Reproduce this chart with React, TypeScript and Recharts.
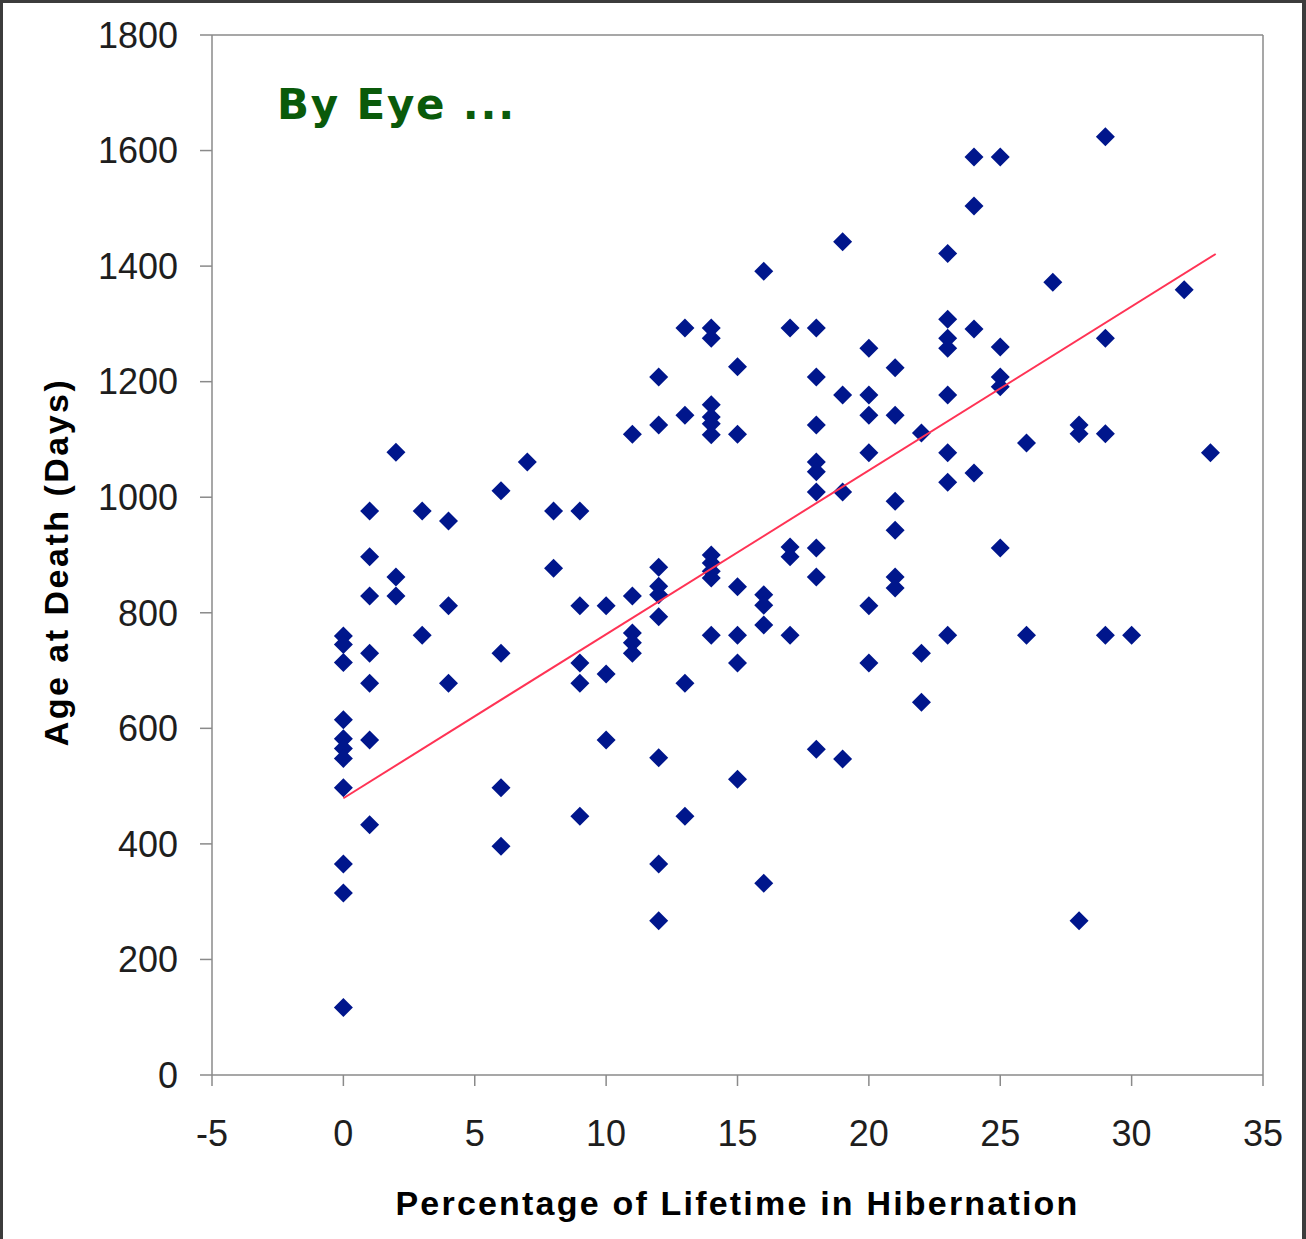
import React from 'react';
import { ScatterChart, Scatter, XAxis, YAxis, ReferenceLine } from 'recharts';

// % of lifetime in hibernation, read column by column
const hibernation = [
  0, 0, 0, 0, 0, 0, 0, 0, 0, 0, 0,
  1, 1, 1, 1, 1, 1, 1,
  2, 2, 2,
  3, 3,
  4, 4, 4,
  6, 6, 6, 6,
  7,
  8, 8,
  9, 9, 9, 9, 9,
  10, 10, 10,
  11, 11, 11, 11, 11,
  12, 12, 12, 12, 12, 12, 12, 12, 12,
  13, 13, 13, 13,
  14, 14, 14, 14, 14, 14, 14, 14, 14, 14, 14,
  15, 15, 15, 15, 15, 15,
  16, 16, 16, 16, 16,
  17, 17, 17, 17,
  18, 18, 18, 18, 18, 18, 18, 18, 18,
  19, 19, 19, 19,
  20, 20, 20, 20, 20, 20,
  21, 21, 21, 21, 21, 21,
  22, 22, 22,
  23, 23, 23, 23, 23, 23, 23, 23,
  24, 24, 24, 24,
  25, 25, 25, 25, 25,
  26, 26,
  27,
  28, 28, 28,
  29, 29, 29, 29,
  30,
  32,
  33,
];

// age at death (days), same order
const ageAtDeath = [
  760, 745, 714, 615, 582, 565, 548, 497, 365, 315, 117,
  976, 897, 829, 730, 678, 580, 433,
  1078, 862, 829,
  976, 761,
  959, 812, 678,
  1011, 730, 497, 396,
  1061,
  976, 877,
  976, 812, 713, 678, 448,
  812, 694, 580,
  1109, 829, 765, 748, 730,
  1208, 1125, 879, 846, 831, 793, 549, 365, 267,
  1293, 1142, 678, 448,
  1293, 1275, 1160, 1139, 1127, 1108, 900, 886, 872, 860, 761,
  1226, 1109, 845, 761, 713, 512,
  1391, 831, 813, 779, 332,
  1293, 914, 897, 761,
  1293, 1208, 1125, 1061, 1044, 1009, 912, 862, 564,
  1442, 1177, 1009, 547,
  1258, 1177, 1142, 1077, 812, 713,
  1224, 1142, 993, 943, 862, 843,
  1111, 730, 645,
  1422, 1308, 1275, 1258, 1177, 1077, 1026, 761,
  1589, 1504, 1291, 1042,
  1589, 1260, 1208, 1191, 912,
  1094, 761,
  1372,
  1125, 1110, 267,
  1624, 1275, 1110, 761,
  761,
  1359,
  1077,
];

// hand-drawn "by eye" line: two end points
const eyeLineX = [0, 33.2];
const eyeLineY = [479, 1421];

const xTicks = [-5, 0, 5, 10, 15, 20, 25, 30, 35];
const yTicks = [0, 200, 400, 600, 800, 1000, 1200, 1400, 1600, 1800];

const points = hibernation.map((x, i) => ({ x, y: ageAtDeath[i] }));
const eyeLine = eyeLineX.map((x, i) => ({ x, y: eyeLineY[i] }));

const AXIS = '#8a8a8a';
const tickFont = { fontFamily: 'Liberation Sans, Arial, sans-serif', fontSize: 36, fill: '#1e1e1e' };
const labelFont = 'Liberation Sans, Arial, sans-serif';

const Diamond = (props: any) => {
  const { cx, cy } = props;
  const r = 9.5;
  return <path d={`M${cx},${cy - r}L${cx + r},${cy}L${cx},${cy + r}L${cx - r},${cy}Z`} fill="#00168c" />;
};

const XLabel = (props: any) => {
  const vb = props.viewBox;
  return (
    <text x={vb.x + vb.width / 2} y={vb.y + 140} textAnchor="middle" fontFamily={labelFont} fontWeight="bold" fontSize={34} letterSpacing={2.2} fill="#000">
      Percentage of Lifetime in Hibernation
    </text>
  );
};

const YLabel = (props: any) => {
  const vb = props.viewBox;
  const cy = vb.y + vb.height / 2 + 7;
  return (
    <text x={68} y={cy} transform={`rotate(-90, 68, ${cy})`} textAnchor="middle" fontFamily={labelFont} fontWeight="bold" fontSize={34} letterSpacing={2.5} fill="#000">
      Age at Death (Days)
    </text>
  );
};

export default function App() {
  return (
    <div style={{ position: 'absolute', left: 0, top: 0, width: 1306, height: 1239, background: '#fff', boxSizing: 'border-box', borderTop: '3px solid #3c3c3c', borderLeft: '3px solid #3c3c3c', borderRight: '4px solid #3c3c3c' }}>
      <div style={{ position: 'absolute', left: -3, top: -3 }}>
        <ScatterChart width={1306} height={1239} margin={{ top: 35, right: 43, bottom: 0, left: 0 }}>
          <XAxis
            type="number"
            dataKey="x"
            domain={[-5, 35]}
            ticks={xTicks}
            allowDataOverflow
            height={164}
            stroke={AXIS}
            strokeWidth={1.5}
            tickSize={11}
            tickMargin={34}
            tick={tickFont}
            label={<XLabel />}
          />
          <YAxis
            type="number"
            dataKey="y"
            domain={[0, 1800]}
            ticks={yTicks}
            allowDataOverflow
            width={212}
            stroke={AXIS}
            strokeWidth={1.5}
            tickSize={12}
            tickMargin={22}
            tick={tickFont}
            label={<YLabel />}
          />
          <ReferenceLine y={1800} stroke={AXIS} strokeWidth={1.5} />
          <ReferenceLine x={35} stroke={AXIS} strokeWidth={1.5} />
          <Scatter data={points} shape={<Diamond />} isAnimationActive={false} />
          <Scatter data={eyeLine} line={{ stroke: '#ff3355', strokeWidth: 2 }} shape={() => <g />} isAnimationActive={false} />
          <text x={277} y={119} fontFamily="DejaVu Sans, sans-serif" fontWeight="bold" fontSize={42} fill="#0a5a0a" letterSpacing={1.8}>
            By Eye ...
          </text>
        </ScatterChart>
      </div>
    </div>
  );
}
